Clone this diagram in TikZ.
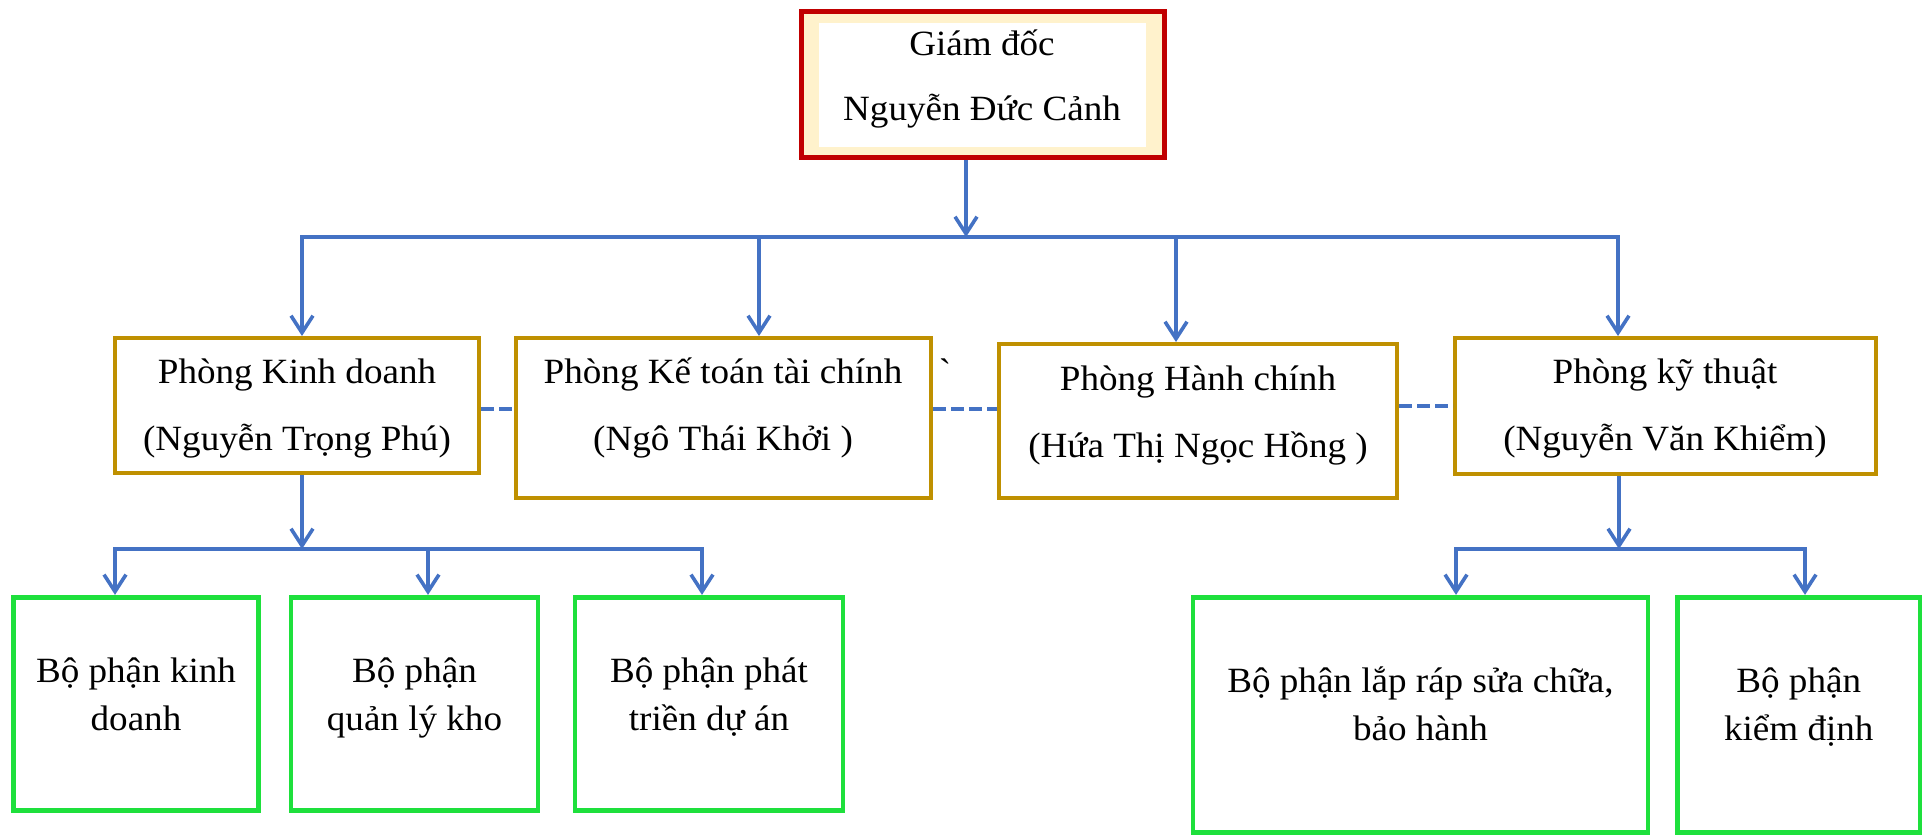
\documentclass[tikz,border=0pt]{standalone}
\usepackage{fontspec}
\setmainfont{Liberation Serif}[FakeStretch=1.045]
\newfontfamily\rawserif{Liberation Serif}[FakeStretch=1.045]
\usetikzlibrary{arrows.meta}
\definecolor{lineblue}{HTML}{4472C4}
\definecolor{boxgold}{HTML}{BF9000}
\definecolor{boxgreen}{HTML}{1EE03C}
\definecolor{boxred}{HTML}{C00000}
\definecolor{boxcream}{HTML}{FFF2CC}
\tikzset{
  goldbox/.style={draw=boxgold, line width=4pt, fill=white, inner sep=0pt},
  greenbox/.style={draw=boxgreen, line width=4.7pt, fill=white, inner sep=0pt},
  txt/.style={anchor=base, inner sep=0pt, font=\fontsize{35.5}{40}\selectfont},
  conn/.style={draw=lineblue, line width=3.6pt},
  arr/.style={conn, -{Straight Barb[length=17pt,width=22pt]}},
  dashconn/.style={conn, dash pattern=on 13pt off 5pt},
}
\begin{document}
\begin{tikzpicture}[x=1pt,y=-1pt]
\useasboundingbox (0,0) rectangle (1925,839);
% director
\node[draw=boxred, line width=5pt, fill=boxcream, minimum width=363pt, minimum height=146pt, inner sep=0pt] (gd) at (983,84.5) {};
\node[fill=white, minimum width=327pt, minimum height=124pt, inner sep=0pt] (gdin) at (982.5,85) {};
\node[txt] (gdt1) at (982,55) {Giám đốc};
\node[txt] (gdt2) at (982,120) {Nguyễn Đức Cảnh};
% departments
\node[goldbox, minimum width=364pt, minimum height=135pt] (p1) at (297,405.5) {};
\node[goldbox, minimum width=415pt, minimum height=160pt] (p2) at (723.5,418) {};
\node[goldbox, minimum width=398pt, minimum height=154pt] (p3) at (1198,421) {};
\node[goldbox, minimum width=421pt, minimum height=136pt] (p4) at (1665.5,406) {};
\node[txt] (p1a) at (297,383) {Phòng Kinh doanh};
\node[txt] (p1b) at (297,450) {(Nguyễn Trọng Phú)};
\node[txt] (p2a) at (723,383) {Phòng Kế toán tài chính};
\node[txt] (p2b) at (723,450) {(Ngô Thái Khởi )};
\node[txt] (p3a) at (1198,390) {Phòng Hành chính};
\node[txt] (p3b) at (1198,457) {(Hứa Thị Ngọc Hồng )};
\node[txt] (p4a) at (1665,383) {Phòng kỹ thuật};
\node[txt] (p4b) at (1665,450) {(Nguyễn Văn Khiểm)};
\node[txt, font=\fontsize{35.5}{40}\rawserif] (tick) at (945,383) {`};
% sections
\node[greenbox, minimum width=245pt, minimum height=213.5pt] (g1) at (136,704) {};
\node[greenbox, minimum width=247pt, minimum height=213.5pt] (g2) at (414.5,704) {};
\node[greenbox, minimum width=268pt, minimum height=213.5pt] (g3) at (709,704) {};
\node[greenbox, minimum width=455pt, minimum height=235.5pt] (g4) at (1420.5,715) {};
\node[greenbox, minimum width=242.5pt, minimum height=235.5pt] (g5) at (1798.75,715) {};
\node[txt] (g1a) at (136,682) {Bộ phận kinh};
\node[txt] (g1b) at (136,730) {doanh};
\node[txt] (g2a) at (414.5,682) {Bộ phận};
\node[txt] (g2b) at (414.5,730) {quản lý kho};
\node[txt] (g3a) at (709,682) {Bộ phận phát};
\node[txt] (g3b) at (709,730) {triền dự án};
\node[txt] (g4a) at (1420.5,692) {Bộ phận lắp ráp sửa chữa,};
\node[txt] (g4b) at (1420.5,740) {bảo hành};
\node[txt] (g5a) at (1798.75,692) {Bộ phận};
\node[txt] (g5b) at (1798.75,740) {kiểm định};
% top-level connectors
\coordinate (b0) at (966,237);
\coordinate (bL) at (302,237);
\coordinate (bR) at (1618,237);
\coordinate (d2) at (759,237);
\coordinate (d3) at (1176,237);
\draw[arr] (gd.south -| b0) -- (b0);
\draw[arr] (b0) -| (bL |- p1.north);
\draw[arr] (b0) -| (bR |- p4.north);
\draw[arr] (d2) -- (d2 |- p2.north);
\draw[arr] (d3) -- (d3 |- p3.north);
% dashed links
\coordinate (h1) at (0,409);
\coordinate (h2) at (0,406);
\draw[dashconn] (p1.east |- h1) -- (p2.west |- h1);
\draw[dashconn] (p2.east |- h1) -- (p3.west |- h1);
\draw[dashconn] (p3.east |- h2) -- (p4.west |- h2);
% lower-left connectors
\coordinate (c0) at (302,549);
\coordinate (e1) at (115,549);
\coordinate (e2) at (428,549);
\coordinate (e3) at (702,549);
\draw[arr] (p1.south -| c0) -- (c0);
\draw[arr] (c0) -| (e1 |- g1.north);
\draw[arr] (c0) -| (e3 |- g3.north);
\draw[arr] (e2) -- (e2 |- g2.north);
% lower-right connectors
\coordinate (f0) at (1619,549);
\coordinate (f1) at (1456,549);
\coordinate (f2) at (1805,549);
\draw[arr] (p4.south -| f0) -- (f0);
\draw[arr] (f0) -| (f1 |- g4.north);
\draw[arr] (f0) -| (f2 |- g5.north);
\end{tikzpicture}
\end{document}
